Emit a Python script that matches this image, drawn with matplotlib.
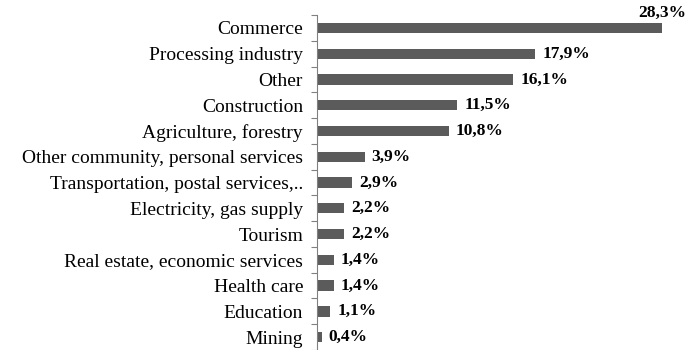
import matplotlib.pyplot as plt

categories = ['Commerce', 'Processing industry', 'Other', 'Construction',
              'Agriculture, forestry', 'Other community, personal services',
              'Transportation, postal services,..', 'Electricity, gas supply',
              'Tourism', 'Real estate, economic services', 'Health care',
              'Education', 'Mining']
shares = [28.3, 17.9, 16.1, 11.5, 10.8, 3.9, 2.9, 2.2, 2.2, 1.4, 1.4, 1.1, 0.4]
labels = ['28,3%', '17,9%', '16,1%', '11,5%', '10,8%', '3,9%', '2,9%',
          '2,2%', '2,2%', '1,4%', '1,4%', '1,1%', '0,4%']

plt.rcParams['font.family'] = ['Liberation Serif', 'DejaVu Serif']

fig = plt.figure(figsize=(6.99, 3.5), dpi=100)
ax = fig.add_axes([0.4535, 0.0, 0.5465, 0.957])

pos = list(range(len(categories)))
ax.barh(pos, shares, height=0.4, color='#5b5b5b')
ax.set_ylim(len(categories) - 0.5, -0.5)
ax.set_xlim(0, 31.3)

ax.set_yticks(pos)
ax.set_yticklabels(categories, fontsize=14)
ax.tick_params(axis='y', which='major', length=0, pad=10)
ax.set_yticks([p - 0.5 for p in pos] + [len(pos) - 0.5], minor=True)
ax.tick_params(axis='y', which='minor', length=4, width=0.8, color='#808080')
ax.set_xticks([])

for side in ['top', 'right', 'bottom']:
    ax.spines[side].set_visible(False)
ax.spines['left'].set_color('#808080')
ax.spines['left'].set_linewidth(0.8)

for i, (v, lab) in enumerate(zip(shares, labels)):
    if i == 0:
        ax.annotate(lab, (v, i), xytext=(0, 5), textcoords='offset points',
                    ha='center', va='bottom', fontsize=12.5, fontweight='bold',
                    annotation_clip=False)
    else:
        ax.annotate(lab, (v, i), xytext=(5, 0), textcoords='offset points',
                    ha='left', va='center', fontsize=12.5, fontweight='bold')

fig.savefig('out.png', dpi=100)
